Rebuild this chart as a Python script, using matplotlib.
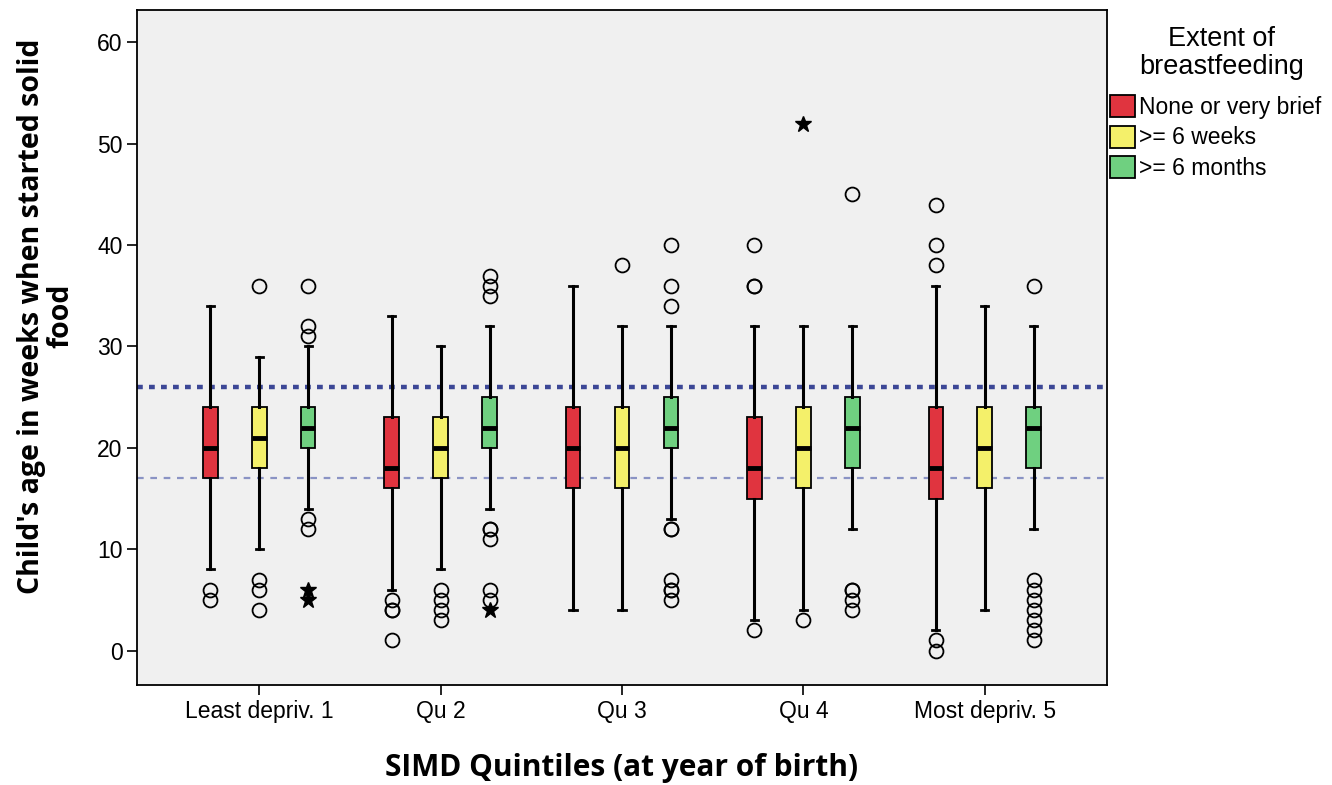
import numpy as np
import matplotlib.pyplot as plt
from matplotlib.patches import Patch

# quintile groups and breastfeeding categories
groups = ['Least depriv. 1', 'Qu 2', 'Qu 3', 'Qu 4', 'Most depriv. 5']
series = ['None or very brief', '>= 6 weeks', '>= 6 months']
colors = ['#e0343f', '#f4f06a', '#6fd080']

# None or very brief
none_lo = [8, 6, 4, 3, 2]
none_q1 = [17, 16, 16, 15, 15]
none_med = [20, 18, 20, 18, 18]
none_q3 = [24, 23, 24, 23, 24]
none_hi = [34, 33, 36, 32, 36]
none_out = [[6, 5], [5, 4, 4, 1], [], [40, 36, 36, 2], [44, 40, 38, 1, 0]]
none_ext = [[], [], [], [], []]

# >= 6 weeks
weeks_lo = [10, 8, 4, 4, 4]
weeks_q1 = [18, 17, 16, 16, 16]
weeks_med = [21, 20, 20, 20, 20]
weeks_q3 = [24, 23, 24, 24, 24]
weeks_hi = [29, 30, 32, 32, 34]
weeks_out = [[36, 7, 6, 4], [6, 5, 4, 3], [38], [3], []]
weeks_ext = [[], [], [], [52], []]

# >= 6 months
months_lo = [14, 14, 13, 12, 12]
months_q1 = [20, 20, 20, 18, 18]
months_med = [22, 22, 22, 22, 22]
months_q3 = [24, 25, 25, 25, 24]
months_hi = [30, 32, 32, 32, 32]
months_out = [[36, 32, 31, 13, 12], [37, 36, 35, 12, 12, 11, 6, 5],
              [40, 36, 34, 12, 12, 7, 6, 6, 5], [45, 6, 6, 5, 4],
              [36, 7, 6, 5, 4, 3, 2, 1]]
months_ext = [[6, 5], [4], [], [], []]

ref_upper = 26
ref_lower = 17

allData = [
    (none_lo, none_q1, none_med, none_q3, none_hi, none_out, none_ext),
    (weeks_lo, weeks_q1, weeks_med, weeks_q3, weeks_hi, weeks_out, weeks_ext),
    (months_lo, months_q1, months_med, months_q3, months_hi, months_out, months_ext),
]

fig = plt.figure(figsize=(13.32, 7.85), dpi=100)
ax = fig.add_axes([137/1332, 100/785, 970/1332, 675/785])
ax.set_facecolor('#f0f0f0')

# reference lines
ax.axhline(ref_upper, color='#3c4796', lw=3.2, dashes=(1.3, 1.4), zorder=1)
ax.axhline(ref_lower, color='#8a93c4', lw=1.6, dashes=(3, 3), zorder=1)

x = np.arange(1, len(groups) + 1)
offsets = [-0.27, 0, 0.27]

for k in range(3):
    lo, q1, med, q3, hi, out, ext = allData[k]
    stats = []
    for i in range(len(groups)):
        stats.append({'whislo': lo[i], 'q1': q1[i], 'med': med[i], 'q3': q3[i],
                      'whishi': hi[i], 'fliers': out[i]})
    ax.bxp(stats, positions=x + offsets[k], widths=0.08, patch_artist=True,
           showfliers=True,
           boxprops=dict(facecolor=colors[k], edgecolor='black', linewidth=1.3),
           medianprops=dict(color='black', linewidth=3.5),
           whiskerprops=dict(color='black', linewidth=2.2),
           capprops=dict(color='black', linewidth=2),
           capwidths=0.04,
           flierprops=dict(marker='o', markerfacecolor='none', markeredgecolor='black',
                           markersize=10, markeredgewidth=1.3), zorder=3)
    for i in range(len(groups)):
        if ext[i]:
            ax.plot([x[i] + offsets[k]] * len(ext[i]), ext[i], linestyle='none',
                    marker='*', markersize=12, color='black', zorder=4)

ax.set_xlim(0.326, 5.674)
ax.set_ylim(-3.4, 63.2)
ax.set_xticks(x)
ax.set_xticklabels(groups, fontsize=16.5, family='Liberation Sans')
ax.set_yticks([0, 10, 20, 30, 40, 50, 60])
ax.set_yticklabels(['0', '10', '20', '30', '40', '50', '60'], fontsize=16.5, family='Liberation Sans')
ax.tick_params(axis='both', direction='out', length=7, width=1.2, colors='black')
for s in ax.spines.values():
    s.set_linewidth(1.3)

fig.text(622/1332, 1 - 768/785, 'SIMD Quintiles (at year of birth)', ha='center', va='center',
         fontsize=21.5, fontweight='bold', family='Open Sans')
fig.text(46/1332, 1 - 316/785, "Child's age in weeks when started solid\nfood", ha='center',
         va='center', rotation=90, fontsize=20.5, fontweight='bold', family='Open Sans',
         multialignment='center', linespacing=1.0)

# legend title drawn on its own so the gap to the entries matches
fig.text(1222/1332, 1 - 53/785, 'Extent of\nbreastfeeding', ha='center', va='center',
         fontsize=19.5, family='Liberation Sans', multialignment='center', linespacing=1.05)
handles = [Patch(facecolor=colors[k], edgecolor='black', linewidth=1.3) for k in range(3)]
leg = fig.legend(handles, series, loc='upper left', bbox_to_anchor=(1110/1332, 1 - 95/785),
                 frameon=False, prop={'family': 'Liberation Sans', 'size': 16.5},
                 handlelength=1.1, handleheight=1.1, handletextpad=0.15,
                 labelspacing=0.3, borderpad=0, borderaxespad=0)

fig.savefig('out.png', dpi=100, facecolor='white')
